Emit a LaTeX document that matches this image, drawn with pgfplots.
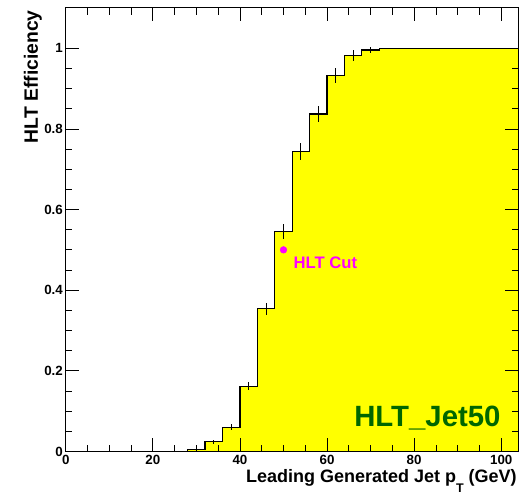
\documentclass[border=0pt]{standalone}
\usepackage{fontspec}
\setmainfont{Liberation Sans}
\usepackage{pgfplots}
\pgfplotsset{compat=1.18}
\definecolor{hltgreen}{RGB}{0,102,0}
\definecolor{hltmag}{RGB}{255,0,255}
\definecolor{hltyellow}{RGB}{255,255,0}
\begin{document}
\begin{tikzpicture}
\path[use as bounding box] (-49.3pt,-31.9pt) rectangle (347.5pt,338.6pt);
\begin{axis}[
  at={(0pt,0pt)}, anchor=south west,
  scale only axis, width=339.75pt, height=332.6pt,
  xmin=0, xmax=104, ymin=0, ymax=1.1,
  xtick={0,20,40,60,80,100}, ytick={0,0.2,0.4,0.6,0.8,1},
  minor x tick num=3, minor y tick num=3,
  major tick length=10pt, minor tick length=5pt,
  tick align=inside,
  tick style={black, line width=0.6pt},
  axis line style={line width=0.75pt},
  axis on top,
  /pgf/number format/assume math mode=true,
  ticklabel style={font=\fontsize{10}{11}\selectfont\bfseries},
  yticklabel style={/pgf/number format/fixed, inner sep=2pt},
  xticklabel style={inner sep=2.5pt},
]
\addplot[const plot, fill=hltyellow, draw=black, line width=0.9pt] coordinates {
  (0,0) (4,0) (8,0) (12,0) (16,0) (20,0) (24,0)
  (28,0.004) (32,0.024) (36,0.060) (40,0.162) (44,0.354)
  (48,0.545) (52,0.744) (56,0.837) (60,0.932) (64,0.982)
  (68,0.996) (72,1.0) (76,1.0) (80,1.0) (84,1.0) (88,1.0)
  (92,1.0) (96,1.0) (100,1.0) (104,1.0)
} \closedcycle;
\addplot[forget plot, draw=none, no markers,
  error bars/.cd, y dir=both, y explicit, error mark=none,
  error bar style={draw=black, line width=0.75pt}] coordinates {
  (30,0.004) +- (0,0.003)
  (34,0.024) +- (0,0.005)
  (38,0.060) +- (0,0.007)
  (42,0.162) +- (0,0.010)
  (46,0.354) +- (0,0.015)
  (50,0.545) +- (0,0.019)
  (54,0.744) +- (0,0.021)
  (58,0.837) +- (0,0.021)
  (62,0.932) +- (0,0.019)
  (66,0.982) +- (0,0.014)
  (70,0.996) +- (0,0.007)
  (74,1.0) +- (0,0.002)
};
\addplot[only marks, mark=*, mark size=2.5pt, hltmag, mark options={draw=hltmag, fill=hltmag}] coordinates {(50,0.5)};
\node[anchor=base west, text=hltmag, font=\fontsize{12.5}{14}\selectfont\bfseries, inner sep=0pt] at (axis cs:52.25,0.455) {HLT Cut};
\node[anchor=base west, text=hltgreen, font=\fontsize{22}{24}\selectfont\bfseries, inner sep=0pt] at (axis cs:66.2,0.063) {HLT\_Jet50};
\end{axis}
\node[rotate=90, anchor=base east, font=\fontsize{14.5}{16}\selectfont\bfseries, inner sep=0pt] at (-20.8pt,331.1pt) {HLT Efficiency};
\node[anchor=base east, font=\fontsize{13.5}{15}\selectfont\bfseries, inner sep=0pt] at (338.5pt,-23.6pt) {Leading Generated Jet p\raisebox{-7.5pt}{\fontsize{9.4}{10}\selectfont T} (GeV)};
\end{tikzpicture}
\end{document}
